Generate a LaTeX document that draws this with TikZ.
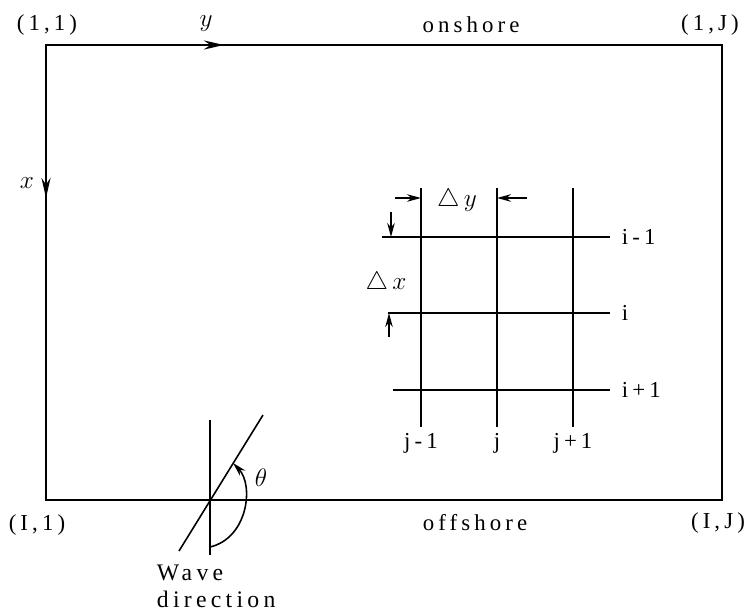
\documentclass[tikz,border=0pt]{standalone}
\usepackage{amsmath,amssymb}
\usepackage{fontspec}
\setmainfont{Liberation Serif}[LetterSpace=18]
\usetikzlibrary{arrows.meta,positioning,calc}
\tikzset{
  >={Stealth[length=2.8mm,width=1.5mm]},
  frame/.style    ={line width=1.5pt},
  edgearrow/.style={->,line width=1.5pt,>={Stealth[length=4mm,width=1.8mm]}},
  grid/.style     ={line width=1.1pt},
  dim/.style      ={->,line width=0.9pt},
  wave/.style     ={line width=0.9pt},
  lbl/.style      ={font=\fontsize{13}{15}\selectfont,inner sep=1.5pt},
  mlbl/.style     ={font=\fontsize{15}{17}\selectfont,inner sep=1.5pt},
  idx/.style      ={font=\fontsize{13}{15}\selectfont,inner sep=1.5pt},
}

\begin{document}
\begin{tikzpicture}[x=0.02cm,y=-0.02cm]
\useasboundingbox (0,0) rectangle (755,615);
% ---- frame of the domain
\coordinate (tl) at (46,45);
\coordinate (tr) at (722,45);
\coordinate (br) at (722,500);
\coordinate (bl) at (46,500);
\draw[frame] (tl) -- (tr) -- (br) -- (bl) -- cycle;
\coordinate (ytip) at (224,45);
\coordinate (xtip) at (46,198);
\draw[edgearrow] (tl) -- (ytip);
\draw[edgearrow] (tl) -- (xtip);
\node[mlbl] (yax) at (206,24) {$y$};
\node[mlbl] (xax) at (27,183) {$x$};

% ---- corner and side labels
\node[lbl] (c11) at (47,25) {(1,1)};
\node[lbl] (c1J) at (710,25) {(1,J)};
\node[lbl] (cI1) at (37,525) {(I,1)};
\node[lbl] (cIJ) at (718,523) {(I,J)};
\node[lbl] (on)  at (471,25) {onshore};
\node[lbl] (off) at (475,523) {offshore};

% ---- computational grid
\foreach \n/\xx/\lab in {1/421/j-1, 2/497/j, 3/573/j+1} {
  \node[idx,anchor=north] (c\n) at (\xx,430) {\lab};
  \draw[grid,shorten >=0.06cm] (\xx,188) -- (c\n);
}
\foreach \n/\yy/\xs/\lab in {1/237/382/i-1, 2/313/388/i, 3/390/393/i+1} {
  \node[idx,anchor=west] (r\n) at (619,\yy) {\lab};
  \draw[grid,shorten >=1.8mm] (\xs,\yy) -- (r\n);
}
\draw[dim] (395,198) -- (c1|-0,198);
\draw[dim] (527,198) -- (c2|-0,198);
\node[mlbl] (dy) at (457,200) {$\triangle\,y$};
\draw[dim] (391,212) -- (391,237);
\draw[dim] (389,337) -- (389,313);
\node[mlbl] (dx) at (386,283) {$\triangle\,x$};

% ---- wave direction
\coordinate (vt) at (210,420);
\coordinate (vb) at (210,555);
\coordinate (wt) at (263,415);
\coordinate (wb) at (179,551);
\draw[wave] (vt) -- (vb);
\draw[wave] (wb) -- (wt);
\draw[wave,->] (210,547) .. controls (248,538) and (254,485) .. (233,463);
\node[mlbl] (th) at (261,478) {$\theta$};
\node[lbl,anchor=north west,align=left,font=\fontsize{13.5}{15.3}\selectfont]
  (wd) at (154,562) {Wave\\direction};
\end{tikzpicture}
\end{document}
